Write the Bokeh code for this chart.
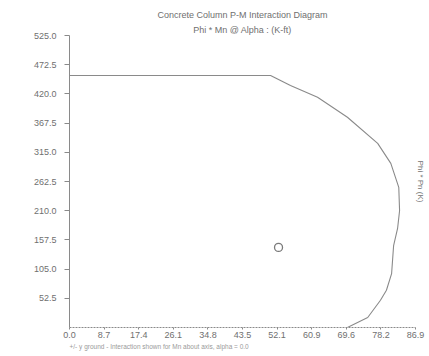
from bokeh.plotting import figure
from bokeh.models import FixedTicker, Range1d, Title, LinearAxis
from bokeh.embed import file_html
from bokeh.resources import INLINE

# Axis ticks
x_ticks = [0.0, 8.69, 17.38, 26.07, 34.76, 43.45, 52.14, 60.83, 69.52, 78.21, 86.9]
x_tick_labels = ["0.0", "8.7", "17.4", "26.1", "34.8", "43.5", "52.1", "60.9", "69.6", "78.2", "86.9"]
y_ticks = [52.5, 105.0, 157.5, 210.0, 262.5, 315.0, 367.5, 420.0, 472.5, 525.0]
y_tick_labels = ["52.5", "105.0", "157.5", "210.0", "262.5", "315.0", "367.5", "420.0", "472.5", "525.0"]

# Interaction curve: Phi*Mn (k-ft) vs Phi*Pn (k)
phi_mn = [0.0, 50.5, 55.5, 62.3, 69.8, 77.4, 80.7, 82.7, 82.9, 82.4, 81.4, 80.9, 79.6, 78.1, 74.9, 69.8]
phi_pn = [453.0, 453.0, 435.0, 414.0, 378.0, 331.0, 295.0, 252.0, 210.0, 178.0, 147.0, 97.0, 67.0, 49.0, 18.0, 0.0]

# Applied load point
load_mn = [52.5]
load_pn = [144.0]

FONT = "Liberation Sans"
GREY = "#8a8a8a"
TEXT = "#6f6f6f"

p = figure(width=429, height=356, output_backend="svg", toolbar_location=None,
           x_range=Range1d(0, 86.9), y_range=Range1d(0, 525),
           min_border_left=69, min_border_right=14, min_border_top=35, min_border_bottom=29)
p.outline_line_color = None
p.xgrid.visible = False
p.ygrid.visible = False

p.xaxis.ticker = FixedTicker(ticks=x_ticks)
p.xaxis.major_label_overrides = {t: l for t, l in zip(x_ticks, x_tick_labels)}
p.yaxis.ticker = FixedTicker(ticks=y_ticks)
p.yaxis.major_label_overrides = {t: l for t, l in zip(y_ticks, y_tick_labels)}

for ax in (p.xaxis, p.yaxis):
    ax.major_label_text_font = FONT
    ax.major_label_text_font_size = "9px"
    ax.major_label_text_color = TEXT
    ax.axis_line_color = GREY
    ax.major_tick_line_color = GREY
    ax.minor_tick_line_color = None
    ax.major_tick_in = 0

p.xaxis.axis_line_dash = "2 1"
p.xaxis.major_tick_out = 2
p.xaxis.major_label_standoff = 2
p.yaxis.major_tick_out = 5
p.yaxis.major_label_standoff = 8

# Vertical axis title on the right side
right_axis = LinearAxis(ticker=FixedTicker(ticks=[]), axis_line_color=None,
                        major_tick_line_color=None, minor_tick_line_color=None,
                        axis_label="Phi * Pn (K)", axis_label_text_font=FONT,
                        axis_label_text_font_size="8px", axis_label_text_color=TEXT,
                        axis_label_text_font_style="normal", axis_label_standoff=0)
p.add_layout(right_axis, "right")

p.line(phi_mn, phi_pn, line_color=GREY, line_width=1.1)
p.scatter(load_mn, load_pn, marker="circle", size=8, fill_color=None,
          line_color="#7a7a7a", line_width=1.3)

# Two-line heading (subtitle added first so it sits nearest the plot)
p.add_layout(Title(text="Phi * Mn @ Alpha : (K-ft)", align="center", text_font=FONT,
                   text_font_size="9px", text_font_style="normal", text_color=TEXT,
                   standoff=2), "above")
p.add_layout(Title(text="Concrete Column P-M Interaction Diagram", align="center",
                   text_font=FONT, text_font_size="9px", text_font_style="normal",
                   text_color=TEXT, standoff=4), "above")

# Footnote under the moment axis
p.add_layout(Title(text="+/- y ground - Interaction shown for Mn about axis, alpha = 0.0",
                   align="left", text_font=FONT, text_font_size="6.5px",
                   text_font_style="normal", text_color="#9a9a9a", standoff=0), "below")

open("out.html", "w").write(file_html(p, INLINE))
